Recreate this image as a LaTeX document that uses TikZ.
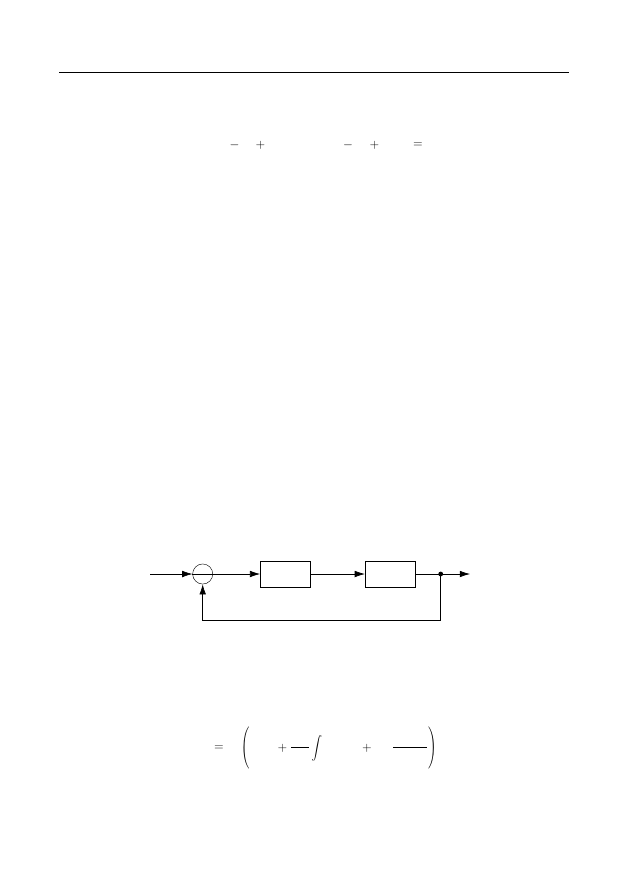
\documentclass[tikz,border=0pt]{standalone}
\usepackage{graphicx}
\usetikzlibrary{arrows.meta}
\tikzset{
  blk/.style={draw,line width=0.6pt,minimum width=16.7mm,minimum height=8.7mm,inner sep=0pt},
  sumc/.style={draw,circle,line width=0.4pt,minimum size=6.7mm,inner sep=0pt},
  tapdot/.style={circle,fill,minimum size=1.6mm,inner sep=0pt},
  sym/.style={inner sep=0pt,font=\fontsize{12}{14}\selectfont},
  sig/.style={line width=0.6pt,-{Latex[length=3.4mm,width=2.2mm]}}
}
\begin{document}
\begin{tikzpicture}[x=0.3334mm,y=-0.3334mm]
      \useasboundingbox (0,0) rectangle (629,893);

      % header rule
      \draw[line width=0.6pt] (59,72) -- (569,72);

      % symbols of the first line
      \node[sym] (minusa) at (234.5,145) {$-$};
      \node[sym] (plusa) at (260.5,145) {$+$};
      \node[sym] (minusb) at (348,145) {$-$};
      \node[sym] (plusb) at (374.5,145) {$+$};
      \node[sym] (eqa) at (418,145) {$=$};

      % loop
      \node[sumc] (sum) at (202.7,574) {};
      \node[blk] (ctrl) at (285.5,574) {};
      \node[blk] (plant) at (390.3,574) {};
      \node[tapdot] (tap) at (440.7,574) {};
      \coordinate (in) at (150,574);
      \coordinate (out) at (470,574);
      \coordinate (fb) at (440.7,620);

      \draw[sig] (in) -- (sum);
      \draw[line width=0.4pt] (sum.west) -- (sum.east);
      \draw[sig] (sum) -- (ctrl);
      \draw[sig] (ctrl) -- (plant);
      \draw[sig] (plant) -- (out);
      \draw[sig] (tap.center) -- (fb) -| (sum);

      % equation
      \node[sym] (eqb) at (219,748) {$=$};
      \node[sym] (lpar) at (246,747.5) {\scalebox{1}[1.33]{$\Bigg($}};
      \node[sym] (plusc) at (282.5,748) {$+$};
      \draw[line width=0.6pt] (291,747.3) -- (309,747.3);
      \node[sym] (intg) at (317,748) {\scalebox{1}[1.1]{$\displaystyle\int$}};
      \node[sym] (plusd) at (367,748) {$+$};
      \draw[line width=0.6pt] (393,747.3) -- (427,747.3);
      \node[sym] (rpar) at (432.5,747.5) {\scalebox{1}[1.33]{$\Bigg)$}};
\end{tikzpicture}
\end{document}
